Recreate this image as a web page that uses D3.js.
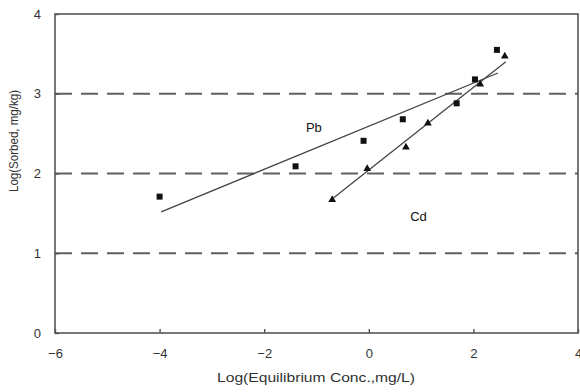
<!DOCTYPE html>
<html>
<head>
<meta charset="utf-8">
<script src="https://cdn.jsdelivr.net/npm/d3@7"></script>
<style>
  body { margin: 0; background: #fff; }
  svg { font-family: "Liberation Sans", Arial, sans-serif; }
</style>
</head>
<body>
<script>
// Pb (squares) and Cd (triangles), log-log sorption data
const pbX = [-4.0, -1.4, -0.1, 0.65, 1.68, 2.03, 2.45];
const pbY = [1.71, 2.09, 2.41, 2.68, 2.88, 3.18, 3.55];
const cdX = [-0.7, -0.03, 0.71, 1.13, 2.13, 2.6];
const cdY = [1.67, 2.06, 2.33, 2.63, 3.12, 3.47];
// fitted trend lines, endpoints
const pbFitX = [-3.97, 2.47];
const pbFitY = [1.52, 3.26];
const cdFitX = [-0.72, 2.62];
const cdFitY = [1.67, 3.40];
const xTicks = [-6, -4, -2, 0, 2, 4];
const yTicks = [0, 1, 2, 3, 4];
const gridLevels = [1, 2, 3];

const width = 580, height = 392;
const margin = { left: 55, right: 2, top: 14, bottom: 59 };

const svg = d3.select('body').append('svg')
  .attr('width', width)
  .attr('height', height);

const x = d3.scaleLinear().domain([-6, 4]).range([margin.left, 578]);
const y = d3.scaleLinear().domain([0, 4]).range([333, margin.top]);

const axisColor = '#555';
const font = '"Liberation Sans", Arial, sans-serif';

// dashed reference lines
svg.selectAll('.grid')
  .data(gridLevels)
  .join('line')
  .attr('x1', x(-6)).attr('x2', x.range()[1])
  .attr('y1', (d) => y(d)).attr('y2', (d) => y(d))
  .attr('stroke', '#606060')
  .attr('stroke-width', 1.8)
  .attr('stroke-dasharray', '17,9');

// plot box
svg.append('rect')
  .attr('x', x(-6)).attr('y', y(4))
  .attr('width', x(4) - x(-6))
  .attr('height', y(0) - y(4))
  .attr('fill', 'none')
  .attr('stroke', axisColor)
  .attr('stroke-width', 1.6);

// x axis
const xAxis = svg.append('g')
  .attr('transform', `translate(0,${y(0)})`)
  .call(d3.axisBottom(x).tickValues(xTicks).tickSize(-4).tickPadding(16).tickFormat(d3.format('d')));
xAxis.select('.domain').remove();
xAxis.selectAll('line').attr('stroke', axisColor).attr('stroke-width', 1.4);
xAxis.selectAll('text').attr('font-size', 13).attr('fill', '#333').attr('font-family', font);

// y axis
const yAxis = svg.append('g')
  .attr('transform', `translate(${x(-6)},0)`)
  .call(d3.axisLeft(y).tickValues(yTicks).tickSize(-4).tickPadding(14).tickFormat(d3.format('d')));
yAxis.select('.domain').remove();
yAxis.selectAll('line').attr('stroke', axisColor).attr('stroke-width', 1.4);
yAxis.selectAll('text').attr('font-size', 13).attr('fill', '#333').attr('font-family', font);

// trend lines
const line = d3.line().x((d) => x(d[0])).y((d) => y(d[1]));
[[pbFitX, pbFitY], [cdFitX, cdFitY]].forEach(([xs, ys]) => {
  svg.append('path')
    .attr('d', line(d3.zip(xs, ys)))
    .attr('fill', 'none')
    .attr('stroke', '#444')
    .attr('stroke-width', 1.3);
});

// Pb squares
svg.selectAll('.pb')
  .data(d3.zip(pbX, pbY))
  .join('rect')
  .attr('x', (d) => x(d[0]) - 3)
  .attr('y', (d) => y(d[1]) - 3)
  .attr('width', 6)
  .attr('height', 6)
  .attr('fill', '#111');

// Cd triangles
const tri = d3.symbol().type(d3.symbolTriangle).size(26);
svg.selectAll('.cd')
  .data(d3.zip(cdX, cdY))
  .join('path')
  .attr('d', tri)
  .attr('transform', (d) => `translate(${x(d[0])},${y(d[1])})`)
  .attr('fill', '#111');

// series labels
svg.append('text')
  .attr('x', x(-1.05)).attr('y', y(2.52))
  .attr('font-size', 13).attr('fill', '#111')
  .attr('text-anchor', 'middle')
  .text('Pb');
svg.append('text')
  .attr('x', x(0.95)).attr('y', y(1.4))
  .attr('font-size', 13).attr('fill', '#111')
  .attr('text-anchor', 'middle')
  .text('Cd');

// axis titles
svg.append('text')
  .attr('x', 316).attr('y', 382)
  .attr('text-anchor', 'middle')
  .attr('font-size', 13).attr('fill', '#333')
  .attr('textLength', 198)
  .attr('lengthAdjust', 'spacingAndGlyphs')
  .text('Log(Equilibrium Conc.,mg/L)');
svg.append('text')
  .attr('transform', 'translate(18,141) rotate(-90)')
  .attr('text-anchor', 'middle')
  .attr('font-size', 12).attr('fill', '#333')
  .attr('textLength', 102)
  .attr('lengthAdjust', 'spacingAndGlyphs')
  .text('Log(Sorbed, mg/kg)');
</script>
</body>
</html>
